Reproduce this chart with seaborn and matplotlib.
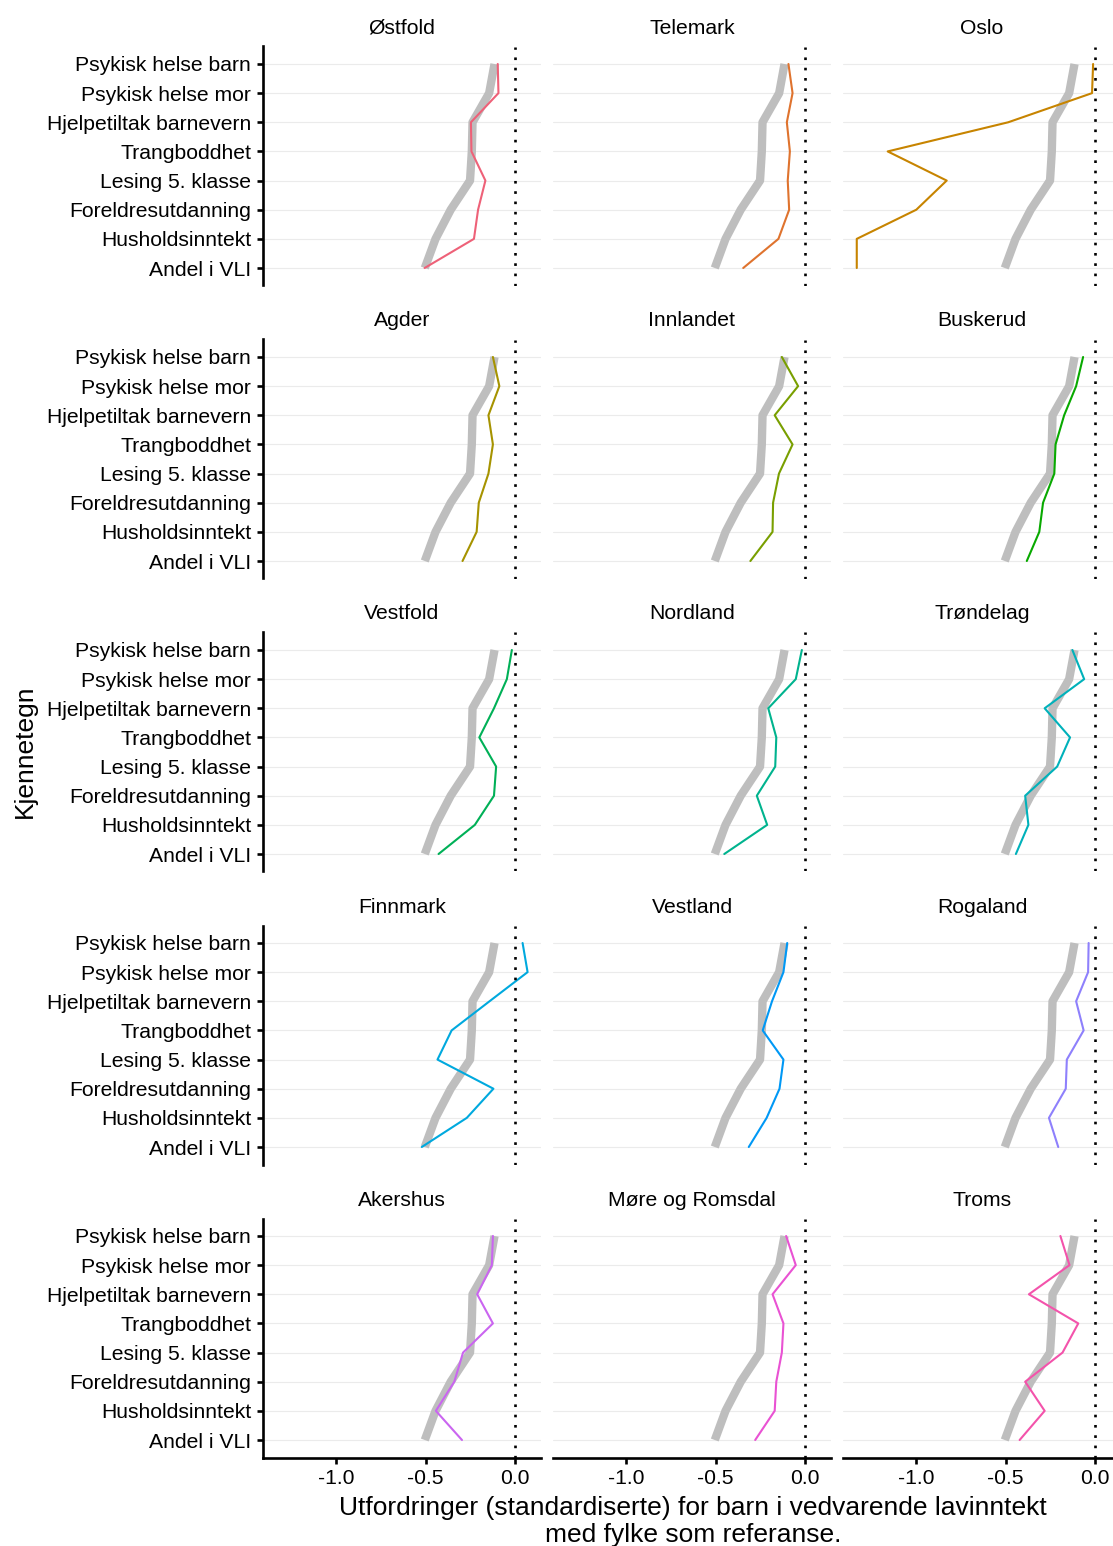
import numpy as np
import pandas as pd
import matplotlib
matplotlib.use("Agg")
import matplotlib.pyplot as plt
import seaborn as sns

# ---------------- data ----------------
kategorier = ["Psykisk helse barn", "Psykisk helse mor", "Hjelpetiltak barnevern",
              "Trangboddhet", "Lesing 5. klasse", "Foreldresutdanning",
              "Husholdsinntekt", "Andel i VLI"]

fylker = ["Østfold", "Telemark", "Oslo", "Agder", "Innlandet", "Buskerud",
          "Vestfold", "Nordland", "Trøndelag", "Finnmark", "Vestland", "Rogaland",
          "Akershus", "Møre og Romsdal", "Troms"]

landet = [-0.115, -0.145, -0.238, -0.242, -0.252, -0.36, -0.445, -0.505]

ostfold = [-0.097, -0.093, -0.247, -0.244, -0.166, -0.207, -0.23, -0.506]
telemark = [-0.093, -0.07, -0.102, -0.085, -0.097, -0.089, -0.149, -0.346]
oslo = [-0.011, -0.017, -0.486, -1.16, -0.83, -1.0, -1.333, -1.333]
agder = [-0.124, -0.088, -0.149, -0.124, -0.149, -0.203, -0.215, -0.294]
innlandet = [-0.13, -0.039, -0.17, -0.07, -0.146, -0.179, -0.182, -0.306]
buskerud = [-0.067, -0.106, -0.173, -0.221, -0.228, -0.291, -0.312, -0.382]
vestfold = [-0.018, -0.046, -0.118, -0.2, -0.106, -0.118, -0.225, -0.428]
nordland = [-0.018, -0.052, -0.206, -0.161, -0.167, -0.27, -0.212, -0.452]
trondelag = [-0.127, -0.061, -0.282, -0.14, -0.212, -0.391, -0.373, -0.443]
finnmark = [0.042, 0.07, -0.143, -0.355, -0.434, -0.121, -0.27, -0.522]
vestland = [-0.1, -0.121, -0.185, -0.237, -0.121, -0.143, -0.215, -0.315]
rogaland = [-0.036, -0.039, -0.106, -0.064, -0.158, -0.164, -0.258, -0.206]
akershus = [-0.124, -0.13, -0.212, -0.124, -0.291, -0.34, -0.443, -0.297]
more_romsdal = [-0.106, -0.052, -0.182, -0.121, -0.13, -0.161, -0.17, -0.279]
troms = [-0.194, -0.143, -0.37, -0.094, -0.182, -0.391, -0.282, -0.422]

fylke_verdier = [ostfold, telemark, oslo, agder, innlandet, buskerud, vestfold,
                 nordland, trondelag, finnmark, vestland, rogaland, akershus,
                 more_romsdal, troms]

x_ticks = [-1.0, -0.5, 0.0]
x_ticklabels = ["-1.0", "-0.5", "0.0"]
x_tittel_1 = "Utfordringer (standardiserte) for barn i vedvarende lavinntekt"
x_tittel_2 = "med fylke som referanse."
y_tittel = "Kjennetegn"

# long tables
pos = np.arange(1, len(kategorier) + 1)
df_land = pd.DataFrame({"kjennetegn": kategorier, "pos": pos, "verdi": landet})
df = pd.concat([pd.DataFrame({"fylke": f, "kjennetegn": kategorier, "pos": pos, "verdi": v})
                for f, v in zip(fylker, fylke_verdier)], ignore_index=True)


# ggplot-like HCL hue palette
def hcl_hex(h, c=100.0, l=65.0):
    hr = np.deg2rad(h)
    u, v = c * np.cos(hr), c * np.sin(hr)
    Xn, Yn, Zn = 95.047, 100.0, 108.883
    den = Xn + 15 * Yn + 3 * Zn
    un, vn = 4 * Xn / den, 9 * Yn / den
    Y = Yn * ((l + 16) / 116) ** 3
    up, vp = u / (13 * l) + un, v / (13 * l) + vn
    X = 9 * Y * up / (4 * vp)
    Z = -X / 3 - 5 * Y + 3 * Y / vp
    X, Y, Z = X / 100, Y / 100, Z / 100
    rgb = np.array([3.240479 * X - 1.537150 * Y - 0.498535 * Z,
                    -0.969256 * X + 1.875992 * Y + 0.041556 * Z,
                    0.055648 * X - 0.204043 * Y + 1.057311 * Z])
    rgb = np.where(rgb <= 0.0031308, 12.92 * rgb, 1.055 * np.abs(rgb) ** (1 / 2.4) - 0.055)
    rgb = np.clip(rgb, 0, 1)
    return "#%02x%02x%02x" % tuple(int(round(x * 255)) for x in rgb)


farger = [hcl_hex(5 + 24 * i, c=100, l=60) for i in range(len(fylker))]

# ---------------- figure ----------------
sns.set_theme(style="white")
plt.rcParams["font.family"] = ["Liberation Sans", "DejaVu Sans"]
plt.rcParams["text.color"] = "black"

W, H = 1113, 1546
fig = plt.figure(figsize=(W / 100, H / 100), dpi=100)

col_left = [263, 553, 843]
panel_w = 278
row_top = [46.5, 339.5, 632.5, 925.5, 1218.5]
panel_h = 239
fs_small = 15.2
fs_big = 19

for i, fylke in enumerate(fylker):
    r, c = divmod(i, 3)
    ax = fig.add_axes([col_left[c] / W, 1 - (row_top[r] + panel_h) / H, panel_w / W, panel_h / H])
    ax.set_facecolor("white")
    sns.lineplot(data=df_land, x="verdi", y="pos", orient="y", sort=False, estimator=None,
                 color="#BEBEBE", lw=6, ax=ax, legend=False, solid_capstyle="butt", zorder=2)
    sns.lineplot(data=df[df["fylke"] == fylke], x="verdi", y="pos", orient="y", sort=False,
                 estimator=None, color=farger[i], lw=1.5, ax=ax, legend=False, zorder=3)
    ax.axvline(0, color="black", ls=(0, (1, 2.9)), lw=1.9, zorder=4)
    ax.set_xlim(-1.41, 0.145)
    ax.set_ylim(8.6, 0.4)
    ax.set_yticks(pos)
    ax.set_xticks(x_ticks)
    ax.set_xlabel("")
    ax.set_ylabel("")
    ax.grid(axis="y", color="#EBEBEB", lw=0.8)
    ax.grid(axis="x", visible=False)
    ax.set_axisbelow(True)
    for s in ["top", "right", "left", "bottom"]:
        ax.spines[s].set_visible(False)
        ax.spines[s].set_linewidth(1.9)
        ax.spines[s].set_color("black")
    if c == 0:
        ax.spines["left"].set_visible(True)
        ax.set_yticklabels(kategorier)
        ax.tick_params(axis="y", left=True, length=4, width=1.9, color="black",
                       labelsize=fs_small, labelcolor="black", pad=4.5)
    else:
        ax.tick_params(axis="y", left=False, labelleft=False)
    if r == 4:
        ax.spines["bottom"].set_visible(True)
        ax.set_xticklabels(x_ticklabels)
        ax.tick_params(axis="x", bottom=True, length=4, width=1.9, color="black",
                       labelsize=fs_small, labelcolor="black", pad=4)
    else:
        ax.tick_params(axis="x", bottom=False, labelbottom=False)
    ax.text(0.5, 1 + (46.5 - 28) / panel_h, fylke, transform=ax.transAxes,
            ha="center", va="center", fontsize=fs_small, color="black")

fig.text(693 / W, 1 - 1508 / H, x_tittel_1, ha="center", va="center", fontsize=fs_big, color="black")
fig.text(693 / W, 1 - 1535 / H, x_tittel_2, ha="center", va="center", fontsize=fs_big, color="black")
fig.text(25 / W, 1 - 751 / H, y_tittel, ha="center", va="center", rotation=90, fontsize=fs_big, color="black")

fig.savefig("out.png", dpi=100)
